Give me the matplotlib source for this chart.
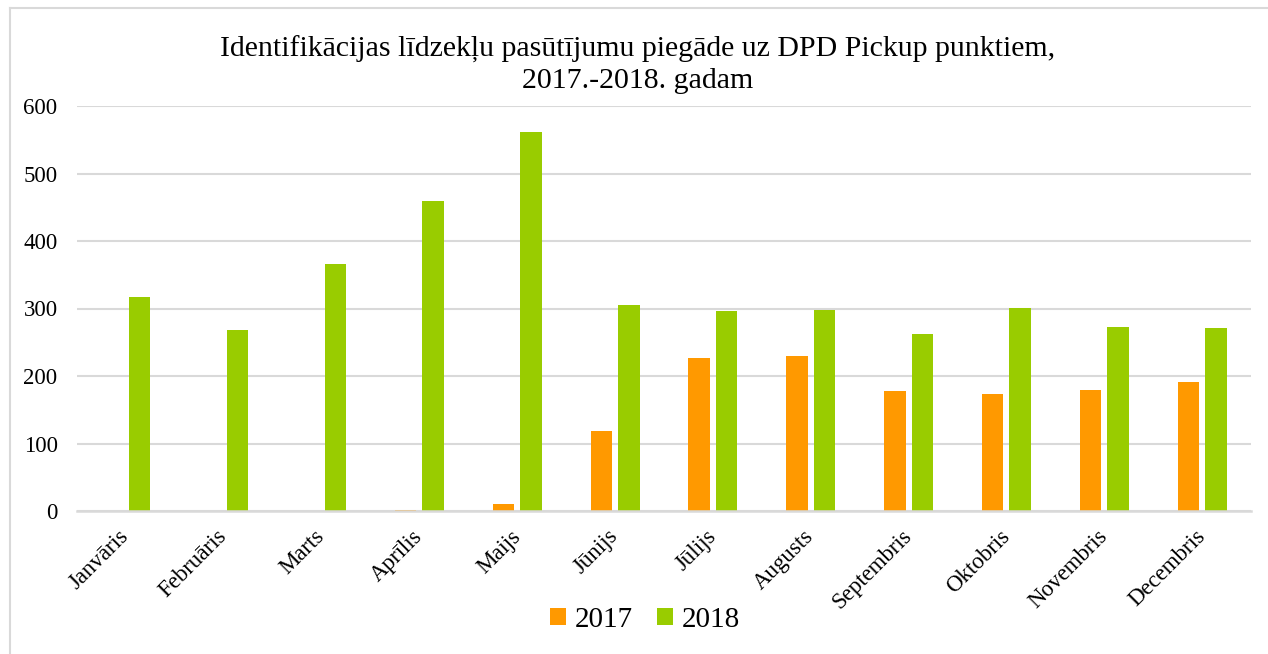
import numpy as np
import matplotlib
matplotlib.use('Agg')
import matplotlib.pyplot as plt
import matplotlib.patches as mpatches
from matplotlib.lines import Line2D

plt.rcParams['font.family'] = ['Liberation Serif', 'DejaVu Serif']

# Dati
menesi = ['Janvāris', 'Februāris', 'Marts', 'Aprīlis', 'Maijs', 'Jūnijs',
          'Jūlijs', 'Augusts', 'Septembris', 'Oktobris', 'Novembris', 'Decembris']
gads_2017 = [0, 0, 0, 2, 10, 119, 226, 230, 178, 173, 180, 191]
gads_2018 = [317, 268, 366, 460, 562, 305, 296, 298, 262, 301, 273, 271]
y_ticks = [0, 100, 200, 300, 400, 500, 600]

c17 = '#FF9900'
c18 = '#99CC00'
grid_c = '#D9D9D9'

W, H = 1268, 654
fig = plt.figure(figsize=(W / 100, H / 100), dpi=100)

# Diagrammas rāmis
fig.add_artist(Line2D([10 / W, 1.0], [1 - 8 / H, 1 - 8 / H], color=grid_c, lw=1.5))
fig.add_artist(Line2D([10 / W, 10 / W], [0, 1 - 8 / H], color=grid_c, lw=1.5))

ax = fig.add_axes([77 / W, (H - 511) / H, (1251 - 77) / W, (511 - 106) / H])

x = np.arange(len(menesi))
bw = 0.22
off = 0.14
ax.bar(x - off, gads_2017, width=bw, color=c17, zorder=3)
ax.bar(x + off, gads_2018, width=bw, color=c18, zorder=3)

ax.set_xlim(-0.5, len(menesi) - 0.5)
ax.set_ylim(0, 600)
ax.set_yticks(y_ticks)
ax.set_yticklabels([str(v) for v in y_ticks], fontsize=16.5)
ax.yaxis.grid(True, color=grid_c, lw=1.5, zorder=0)
ax.set_axisbelow(True)
ax.tick_params(axis='y', length=0, pad=14)
ax.tick_params(axis='x', length=0, pad=16)

for s in ['top', 'right', 'left']:
    ax.spines[s].set_visible(False)
ax.spines['bottom'].set_color(grid_c)
ax.spines['bottom'].set_linewidth(1.8)
ax.spines['bottom'].set_zorder(4)

ax.set_xticks(x)
ax.set_xticklabels(menesi, rotation=45, ha='right', va='center',
                   rotation_mode='anchor', fontsize=16.5)

fig.text(638 / W, 1 - 65 / H,
         'Identifikācijas līdzekļu pasūtījumu piegāde uz DPD Pickup punktiem,\n2017.-2018. gadam',
         ha='center', va='center', fontsize=21.5, linespacing=1.25)

handles = [mpatches.Patch(facecolor=c17, label='2017'),
           mpatches.Patch(facecolor=c18, label='2018')]
fig.legend(handles=handles, loc='center', bbox_to_anchor=(645 / W, 1 - 620 / H),
           ncol=2, frameon=False, fontsize=21, handlelength=0.55, handleheight=0.55,
           handletextpad=0.3, columnspacing=0.8)

fig.savefig('out.png', dpi=100, facecolor='white')
